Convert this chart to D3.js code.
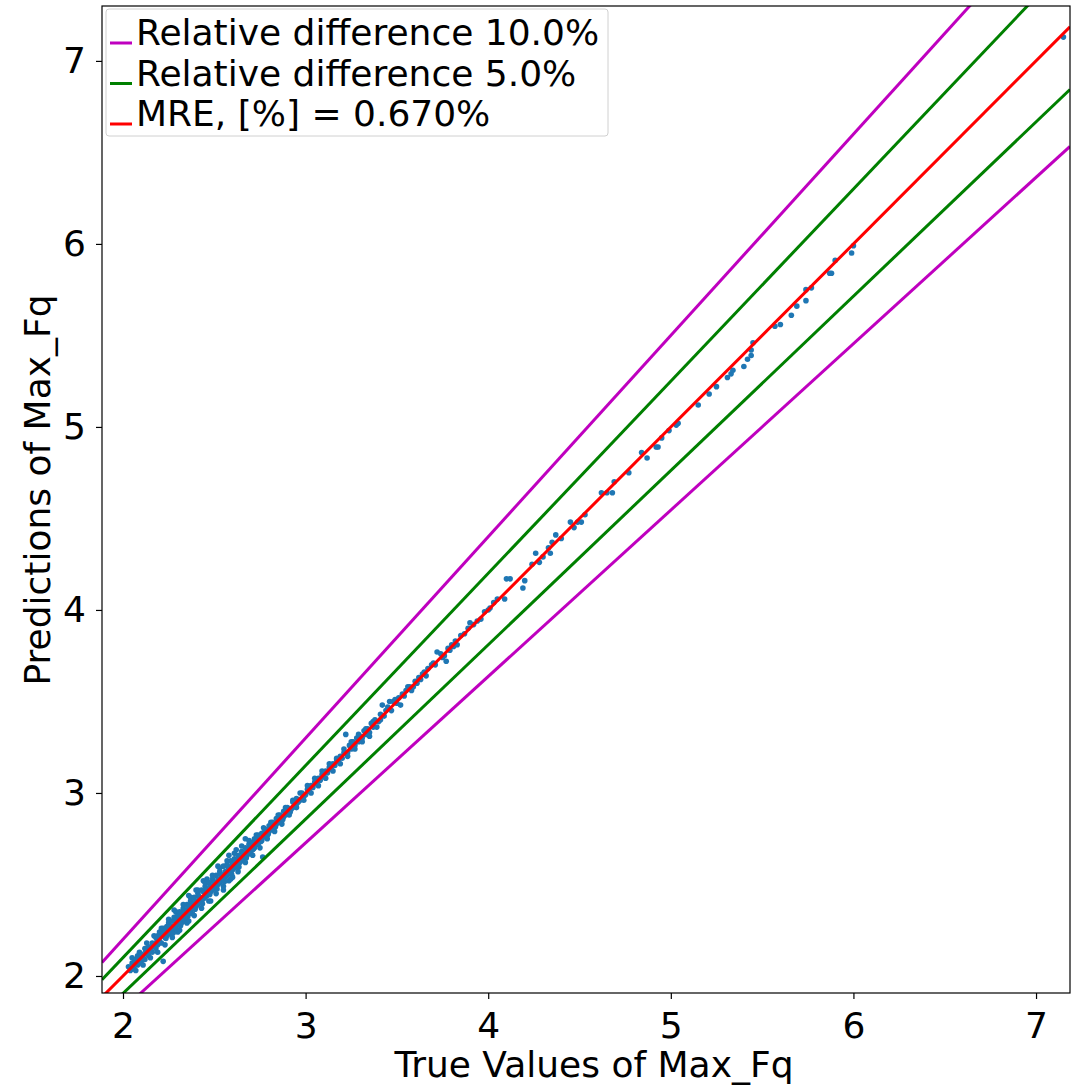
<!DOCTYPE html>
<meta charset="utf-8">
<style>
  body { margin: 0; background: #fff; }
  text { font-family: "DejaVu Sans", sans-serif; }
  .axis text { font-size: 36px; fill: #000; }
  .axis path, .axis line { stroke: #000; stroke-width: 1.2; }
</style>
<script src="https://d3js.org/d3.v7.min.js"></script>
<div id="chart"></div>
<script>

// data: [true value, prediction]
var samples = [
  [2.03,2.05],[2.04,2.03],[2.05,2.07],[2.05,2.10],[2.06,2.04],[2.065,2.085],[2.07,2.09],[2.07,2.03],[2.08,2.06],
  [2.08,2.11],[2.085,2.095],[2.09,2.07],[2.09,2.13],[2.10,2.12],[2.10,2.08],[2.105,2.095],[2.11,2.10],[2.11,2.06],
  [2.12,2.15],[2.12,2.09],[2.125,2.135],[2.13,2.12],[2.13,2.18],[2.14,2.16],[2.14,2.11],[2.145,2.135],[2.15,2.14],
  [2.15,2.10],[2.16,2.18],[2.16,2.13],[2.165,2.175],[2.17,2.16],[2.17,2.22],[2.18,2.21],[2.18,2.15],[2.185,2.185],
  [2.19,2.17],[2.19,2.22],[2.19,2.13],[2.20,2.19],[2.20,2.24],[2.205,2.215],[2.21,2.18],[2.21,2.26],[2.215,2.245],
  [2.22,2.08],[2.22,2.23],[2.22,2.26],[2.23,2.21],[2.23,2.25],[2.23,2.17],[2.235,2.205],[2.24,2.27],[2.24,2.22],
  [2.25,2.24],[2.25,2.29],[2.25,2.31],[2.255,2.275],[2.26,2.23],[2.26,2.27],[2.27,2.30],[2.27,2.25],[2.27,2.21],
  [2.275,2.235],[2.28,2.27],[2.28,2.32],[2.28,2.36],[2.29,2.26],[2.29,2.30],[2.29,2.35],[2.295,2.315],[2.30,2.28],
  [2.30,2.33],[2.30,2.24],[2.31,2.30],[2.31,2.35],[2.31,2.25],[2.315,2.275],[2.32,2.29],[2.32,2.33],[2.33,2.31],
  [2.33,2.37],[2.33,2.39],[2.335,2.355],[2.34,2.33],[2.34,2.30],[2.35,2.36],[2.35,2.39],[2.35,2.29],[2.355,2.325],
  [2.36,2.34],[2.36,2.38],[2.36,2.30],[2.36,2.44],[2.37,2.35],[2.37,2.41],[2.37,2.43],[2.375,2.395],[2.38,2.37],
  [2.38,2.34],[2.39,2.40],[2.39,2.43],[2.39,2.33],[2.395,2.365],[2.40,2.38],[2.40,2.41],[2.40,2.47],[2.41,2.39],
  [2.41,2.45],[2.41,2.47],[2.415,2.435],[2.42,2.40],[2.42,2.43],[2.43,2.41],[2.43,2.47],[2.43,2.37],[2.435,2.395],
  [2.44,2.42],[2.44,2.46],[2.44,2.52],[2.45,2.43],[2.45,2.49],[2.45,2.51],[2.455,2.475],[2.46,2.44],[2.46,2.47],
  [2.46,2.53],[2.47,2.45],[2.47,2.51],[2.47,2.41],[2.475,2.445],[2.48,2.46],[2.48,2.49],[2.48,2.41],[2.49,2.47],
  [2.49,2.53],[2.49,2.55],[2.495,2.515],[2.50,2.48],[2.50,2.51],[2.51,2.49],[2.51,2.55],[2.51,2.45],[2.515,2.475],
  [2.52,2.50],[2.52,2.53],[2.52,2.60],[2.53,2.51],[2.53,2.57],[2.53,2.59],[2.535,2.555],[2.54,2.52],[2.54,2.55],
  [2.55,2.53],[2.55,2.60],[2.55,2.47],[2.55,2.49],[2.555,2.515],[2.56,2.54],[2.56,2.57],[2.57,2.55],[2.57,2.61],
  [2.57,2.63],[2.575,2.595],[2.58,2.56],[2.58,2.59],[2.58,2.52],[2.58,2.66],[2.59,2.57],[2.59,2.63],[2.59,2.53],
  [2.595,2.555],[2.60,2.58],[2.60,2.61],[2.60,2.54],[2.61,2.59],[2.61,2.64],[2.61,2.67],[2.615,2.635],[2.62,2.60],
  [2.62,2.63],[2.62,2.69],[2.63,2.61],[2.63,2.66],[2.63,2.57],[2.635,2.595],[2.64,2.62],[2.64,2.65],[2.65,2.63],
  [2.65,2.68],[2.65,2.71],[2.655,2.675],[2.66,2.64],[2.66,2.67],[2.67,2.65],[2.67,2.70],[2.67,2.75],[2.67,2.62],
  [2.675,2.645],[2.68,2.66],[2.68,2.69],[2.69,2.67],[2.69,2.72],[2.69,2.74],[2.695,2.705],[2.70,2.68],[2.70,2.71],
  [2.71,2.69],[2.71,2.73],[2.71,2.66],[2.715,2.695],[2.72,2.70],[2.72,2.75],[2.73,2.72],[2.73,2.77],[2.735,2.745],
  [2.74,2.72],[2.74,2.77],[2.75,2.74],[2.75,2.70],[2.755,2.735],[2.76,2.74],[2.76,2.78],[2.765,2.65],[2.77,2.76],
  [2.77,2.81],[2.775,2.785],[2.78,2.77],[2.78,2.80],[2.79,2.77],[2.79,2.75],[2.795,2.775],[2.80,2.79],[2.80,2.82],
  [2.81,2.80],[2.81,2.84],[2.815,2.825],[2.82,2.80],[2.82,2.84],[2.83,2.82],[2.83,2.79],[2.835,2.815],[2.84,2.83],
  [2.84,2.86],[2.85,2.84],[2.85,2.88],[2.855,2.865],[2.86,2.84],[2.86,2.88],[2.87,2.86],[2.87,2.83],[2.875,2.855],
  [2.88,2.87],[2.88,2.90],[2.89,2.88],[2.89,2.92],[2.895,2.905],[2.90,2.89],[2.90,2.92],[2.91,2.90],[2.91,2.88],
  [2.915,2.895],[2.92,2.91],[2.93,2.92],[2.93,2.95],[2.93,2.96],[2.94,2.93],[2.95,2.94],[2.95,2.97],[2.95,2.92],
  [2.96,2.95],[2.97,2.96],[2.97,3.00],[2.98,2.97],[2.98,3.00],[2.99,2.98],[2.99,2.96],[3.00,2.99],[3.01,3.02],
  [3.01,3.04],[3.02,3.01],[3.03,3.04],[3.03,3.00],[3.04,3.03],[3.05,3.06],[3.05,3.08],[3.06,3.05],[3.07,3.08],
  [3.07,3.04],[3.08,3.07],[3.09,3.10],[3.09,3.12],[3.10,3.09],[3.11,3.12],[3.11,3.08],[3.12,3.11],[3.13,3.14],
  [3.13,3.16],[3.14,3.13],[3.15,3.16],[3.15,3.12],[3.16,3.15],[3.17,3.18],[3.17,3.19],[3.18,3.17],[3.19,3.20],
  [3.19,3.16],[3.20,3.19],[3.21,3.22],[3.21,3.24],[3.22,3.32],[3.23,3.22],[3.23,3.20],[3.24,3.26],[3.25,3.24],
  [3.25,3.28],[3.26,3.28],[3.27,3.26],[3.27,3.24],[3.28,3.30],[3.29,3.28],[3.29,3.32],[3.30,3.31],[3.31,3.30],
  [3.31,3.28],[3.32,3.34],[3.33,3.32],[3.33,3.35],[3.34,3.35],[3.35,3.33],[3.35,3.31],[3.36,3.38],[3.37,3.36],
  [3.37,3.39],[3.38,3.40],[3.39,3.36],[3.40,3.39],[3.41,3.43],[3.41,3.40],[3.42,3.48],[3.43,3.42],[3.44,3.45],
  [3.45,3.47],[3.46,3.50],[3.47,3.45],[3.48,3.50],[3.49,3.51],[3.50,3.49],[3.51,3.52],[3.52,3.48],[3.53,3.54],
  [3.54,3.53],[3.55,3.56],[3.56,3.58],[3.57,3.58],[3.58,3.56],[3.59,3.58],[3.60,3.61],[3.61,3.60],[3.62,3.63],
  [3.63,3.62],[3.64,3.65],[3.65,3.66],[3.66,3.64],[3.67,3.68],[3.69,3.70],[3.70,3.71],[3.71,3.70],[3.72,3.77],
  [3.74,3.76],[3.75,3.74],[3.76,3.75],[3.77,3.72],[3.78,3.79],[3.79,3.78],[3.80,3.81],[3.81,3.80],[3.82,3.83],
  [3.83,3.81],[3.85,3.86],[3.87,3.87],[3.89,3.90],[3.90,3.93],[3.92,3.92],[3.94,3.94],[3.96,3.95],[3.98,3.99],
  [4.00,4.00],[4.01,4.01],[4.03,4.04],[4.05,4.06],[4.09,4.06],[4.10,4.17],[4.12,4.17],[4.19,4.12],[4.20,4.16],
  [4.24,4.25],[4.26,4.31],[4.28,4.26],[4.30,4.29],[4.33,4.34],[4.34,4.31],[4.35,4.37],[4.37,4.41],[4.40,4.39],
  [4.45,4.48],[4.47,4.45],[4.49,4.48],[4.51,4.48],[4.53,4.52],[4.62,4.64],[4.65,4.64],[4.68,4.64],[4.69,4.70],
  [4.77,4.75],[4.84,4.86],[4.87,4.83],[4.92,4.89],[4.93,4.89],[4.95,4.94],[4.99,4.98],[5.03,5.01],[5.04,5.02],
  [5.15,5.12],[5.21,5.18],[5.25,5.22],[5.31,5.27],[5.33,5.29],[5.34,5.31],[5.40,5.33],[5.42,5.37],[5.44,5.39],
  [5.44,5.42],[5.45,5.46],[5.57,5.55],[5.60,5.56],[5.66,5.61],[5.69,5.66],[5.74,5.69],[5.74,5.75],[5.77,5.76],
  [5.87,5.84],[5.88,5.84],[5.90,5.91],[5.99,5.95],[6.00,5.99],[7.15,7.13]
];

// relative difference bands (above: true*(1+p), below: true/(1+p)) and the mean relative error
var bandLevels = [0.10, 0.05];
var bandColors = ["#bf00bf", "#008000"];
var mreLabel = "MRE, [%] = 0.670%";
var legendLabels = ["Relative difference 10.0%", "Relative difference 5.0%", mreLabel];
var legendColors = ["#bf00bf", "#008000", "#ff0000"];
var xTicks = [2, 3, 4, 5, 6, 7];
var yTicks = [2, 3, 4, 5, 6, 7];
var xDomain = [1.885, 7.186];
var yDomain = [1.907, 7.30];

var W = 1071, H = 1087;
var margin = {top: 6, right: 1, bottom: 94, left: 102},
    width = W - margin.left - margin.right,
    height = H - margin.top - margin.bottom;

var svg = d3.select("#chart")
  .append("svg")
    .attr("width", W)
    .attr("height", H);

var g = svg.append("g")
    .attr("transform", "translate(" + margin.left + "," + margin.top + ")");

var x = d3.scaleLinear().domain(xDomain).range([0, width]);
var y = d3.scaleLinear().domain(yDomain).range([height, 0]);

g.append("clipPath").attr("id", "clip")
  .append("rect").attr("width", width).attr("height", height);

var plot = g.append("g").attr("clip-path", "url(#clip)");

// scatter of the predictions
plot.selectAll("circle")
  .data(samples)
  .enter()
  .append("circle")
    .attr("cx", function(d) { return x(d[0]); })
    .attr("cy", function(d) { return y(d[1]); })
    .attr("r", 2.8)
    .style("fill", "#1f77b4");

// band lines, then the identity line on top
var line = d3.line()
    .x(function(d) { return x(d[0]); })
    .y(function(d) { return y(d[1]); });

bandLevels.forEach(function(p, i) {
  [1 + p, 1 / (1 + p)].forEach(function(k) {
    plot.append("path")
      .datum(xDomain.map(function(v) { return [v, k * v]; }))
      .attr("d", line)
      .style("fill", "none")
      .style("stroke", bandColors[i])
      .style("stroke-width", 3);
  });
});

plot.append("path")
  .datum(xDomain.map(function(v) { return [v, v]; }))
  .attr("d", line)
  .style("fill", "none")
  .style("stroke", "#ff0000")
  .style("stroke-width", 3);

// axes
g.append("g")
    .attr("class", "axis")
    .attr("transform", "translate(0," + height + ")")
    .call(d3.axisBottom(x).tickValues(xTicks).tickFormat(d3.format("d"))
      .tickSize(6).tickPadding(8).tickSizeOuter(0))
  .selectAll("text").attr("dy", "0.85em");

g.append("g")
    .attr("class", "axis")
    .call(d3.axisLeft(y).tickValues(yTicks).tickFormat(d3.format("d"))
      .tickSize(6).tickPadding(10).tickSizeOuter(0));

g.selectAll(".axis").select("path").remove();

// frame
g.append("rect")
    .attr("width", width)
    .attr("height", height)
    .style("fill", "none")
    .style("stroke", "#000")
    .style("stroke-width", 1.2);

// axis titles
svg.append("text")
    .attr("x", 594)
    .attr("y", 1077)
    .attr("text-anchor", "middle")
    .style("font-size", "36px")
    .text("True Values of Max_Fq");

svg.append("text")
    .attr("transform", "translate(50,490) rotate(-90)")
    .attr("text-anchor", "middle")
    .style("font-size", "36px")
    .text("Predictions of Max_Fq");

// legend
var legend = svg.append("g").attr("transform", "translate(106,9)");
legend.append("rect")
    .attr("width", 502)
    .attr("height", 127)
    .attr("rx", 3)
    .style("fill", "#fff")
    .style("fill-opacity", 0.8)
    .style("stroke", "#d0d0d0")
    .style("stroke-width", 1);

var rows = legend.selectAll(".row")
  .data(legendLabels)
  .enter()
  .append("g")
    .attr("transform", function(d, i) { return "translate(0," + (36 + i * 40.5) + ")"; });

rows.append("line")
    .attr("x1", 4).attr("x2", 26)
    .attr("y1", -2).attr("y2", -2)
    .style("stroke", function(d, i) { return legendColors[i]; })
    .style("stroke-width", 3);

rows.append("text")
    .attr("x", 30)
    .style("font-size", "36px")
    .text(function(d) { return d; });

</script>
